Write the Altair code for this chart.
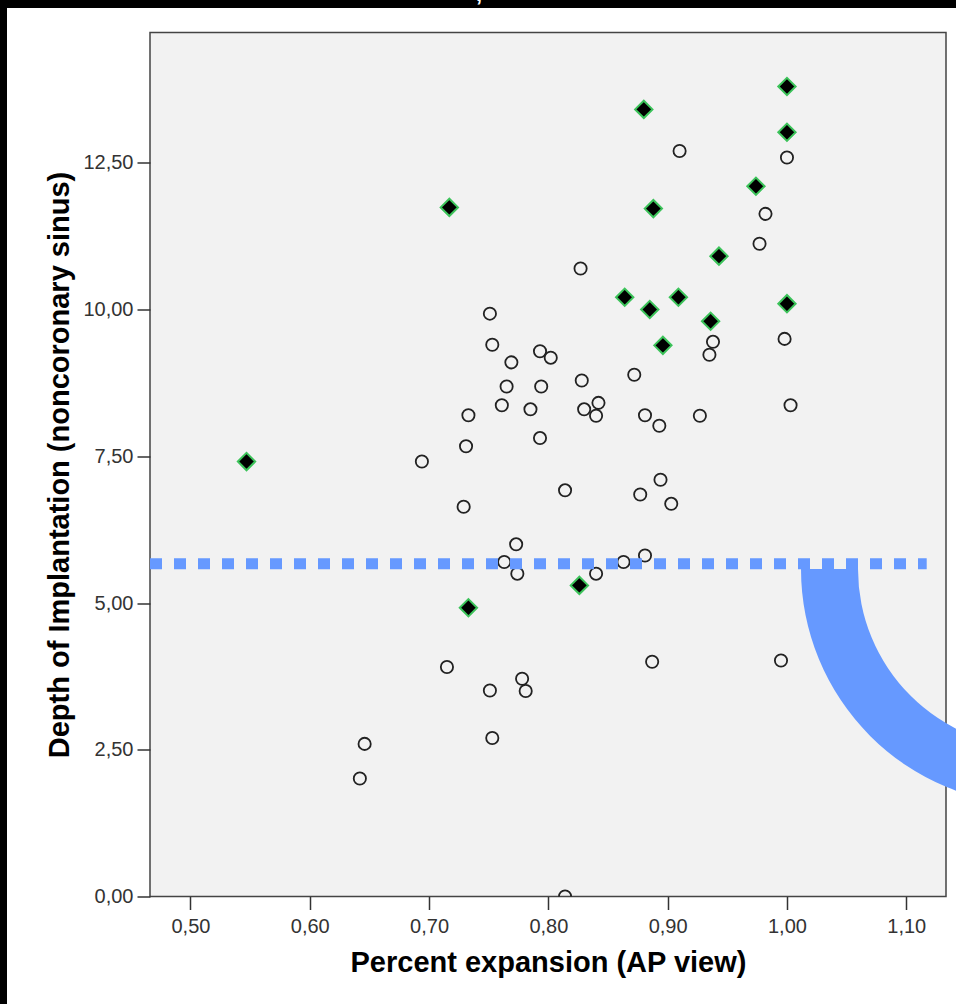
import math
import altair as alt
import pandas as pd

# ---- data ----
diamond_x = [1.000, 0.880, 1.000, 0.974, 0.717, 0.888, 0.943, 0.864, 0.909, 1.000,
             0.885, 0.936, 0.896, 0.547, 0.826, 0.733]
diamond_y = [13.80, 13.41, 13.02, 12.10, 11.74, 11.72, 10.91, 10.21, 10.21, 10.10,
             10.00, 9.80, 9.39, 7.41, 5.30, 4.92]

circle_x = [0.910, 1.000, 0.982, 0.977, 0.827, 0.751, 0.753, 0.938, 0.998, 0.935,
            0.793, 0.802, 0.769, 0.828, 0.765, 0.794, 0.872, 0.842, 0.761, 0.830,
            0.840, 0.785, 0.733, 0.881, 0.893, 0.927, 1.003, 0.793, 0.731, 0.694,
            0.814, 0.894, 0.877, 0.903, 0.729, 0.773, 0.763, 0.774, 0.840, 0.863,
            0.881, 0.887, 0.995, 0.715, 0.751, 0.778, 0.781, 0.753, 0.646, 0.642,
            0.814]
circle_y = [12.70, 12.59, 11.63, 11.12, 10.70, 9.93, 9.40, 9.45, 9.50, 9.23,
            9.29, 9.18, 9.10, 8.79, 8.69, 8.69, 8.89, 8.41, 8.37, 8.30,
            8.19, 8.30, 8.20, 8.20, 8.02, 8.19, 8.37, 7.81, 7.67, 7.41,
            6.92, 7.10, 6.85, 6.69, 6.64, 6.00, 5.70, 5.50, 5.50, 5.70,
            5.81, 4.00, 4.02, 3.91, 3.51, 3.71, 3.50, 2.70, 2.60, 2.01,
            0.00]

x_ticks = [0.5, 0.6, 0.7, 0.8, 0.9, 1.0, 1.1]
y_ticks = [0.0, 2.5, 5.0, 7.5, 10.0, 12.5]
ref_line_y = [5.67]

x_title = "Percent expansion (AP view)"
y_title = "Depth of Implantation (noncoronary sinus)"

# ---- layout ----
PAD_L, PAD_T = 150, 32.5
W, H = 796, 864
X_DOMAIN = [0.4661, 1.1333]
Y_DOMAIN = [0.0, 14.72]

diamonds = pd.DataFrame({"x": diamond_x, "y": diamond_y})
circles = pd.DataFrame({"x": circle_x, "y": circle_y})
one = pd.DataFrame({"k": [0]})
refdf = pd.DataFrame({"y": ref_line_y})

label_expr = "replace(format(datum.value, '.2f'), '.', ',')"

xenc = alt.X("x:Q", scale=alt.Scale(domain=X_DOMAIN, nice=False, zero=False),
             axis=alt.Axis(values=x_ticks, labelExpr=label_expr, title=x_title,
                           titleY=75, titleBaseline="alphabetic", labelPadding=7))
yenc = alt.Y("y:Q", scale=alt.Scale(domain=Y_DOMAIN, nice=False, zero=False),
             axis=alt.Axis(values=y_ticks, labelExpr=label_expr, title=y_title,
                           titleX=-82, titleBaseline="alphabetic", labelPadding=4))

bg_left = alt.Chart(one).mark_rect(color="black").encode(
    x=alt.value(-PAD_L), x2=alt.value(-PAD_L + 7),
    y=alt.value(-PAD_T), y2=alt.value(1004 - PAD_T))
bg_top = alt.Chart(one).mark_rect(color="black").encode(
    x=alt.value(-PAD_L), x2=alt.value(956 - PAD_L),
    y=alt.value(-PAD_T), y2=alt.value(-PAD_T + 8))
frag = alt.Chart(one).mark_text(text=",", color="white", fontSize=22, fontWeight="bold",
                                font="Liberation Sans", baseline="alphabetic").encode(
    x=alt.value(479 - PAD_L), y=alt.value(-PAD_T + 1))

circ = alt.Chart(circles).mark_point(shape="circle", filled=False, stroke="#222222",
                                     strokeWidth=1.8, size=150, opacity=1, clip=True).encode(
    x=xenc, y=yenc)
diam = alt.Chart(diamonds).mark_point(shape="diamond", filled=True, fill="black",
                                      stroke="#3cc35a", strokeWidth=2, size=300,
                                      opacity=1, clip=True).encode(x=xenc, y=yenc)

ref = alt.Chart(refdf).mark_rule(color="#6699ff", strokeWidth=11, strokeDash=[12, 12],
                                 strokeCap="butt").encode(
    y="y:Q", x=alt.value(0), x2=alt.value(776.7))

arc = alt.Chart(one).mark_arc(color="#6699ff", radius=236, radius2=179,
                              theta=math.pi, theta2=1.5 * math.pi).encode(
    x=alt.value(1037 - PAD_L), y=alt.value(569 - PAD_T))

chart = alt.layer(bg_left, bg_top, frag, circ, diam, ref, arc).properties(
    width=W, height=H,
    autosize=alt.AutoSizeParams(type="none"),
    padding={"left": PAD_L, "top": PAD_T, "right": 956 - PAD_L - W,
             "bottom": 1004 - PAD_T - H},
    background="white",
).configure_view(
    fill="#f2f2f2", stroke="#444444", strokeWidth=1.5
).configure_axis(
    labelFont="Liberation Sans", labelFontSize=20, labelColor="#333333",
    titleFont="Liberation Sans", titleFontSize=29, titleFontWeight="bold", titleColor="#000000",
    tickColor="#333333", tickWidth=1.5, tickSize=13, domain=False, grid=False
)

chart.save("out.html", embed_options={"renderer": "svg", "actions": False})
